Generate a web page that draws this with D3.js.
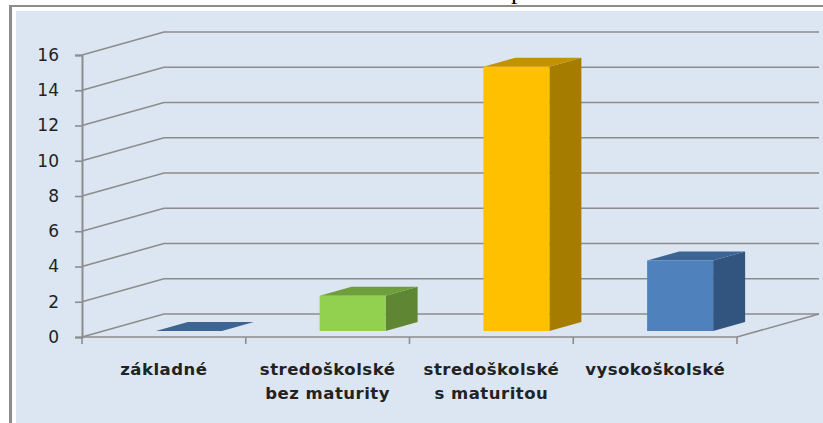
<!DOCTYPE html>
<html>
<head>
<meta charset="utf-8">
<script src="https://cdnjs.cloudflare.com/ajax/libs/d3/7.8.5/d3.min.js"></script>
<style>
html, body { margin: 0; padding: 0; background: #fff; overflow: hidden; }
svg { display: block; }
text { font-family: "DejaVu Sans", sans-serif; fill: #222; }
</style>
</head>
<body>
<div id="chart"></div>
<script>
const categories = ["základné", "stredoškolské|bez maturity", "stredoškolské|s maturitou", "vysokoškolské"]
const values = [0, 2, 15, 4]
const yTicks = [0, 2, 4, 6, 8, 10, 12, 14, 16]

// front face, top and side colours of each bar
const frontColors = ["#4f81bd", "#92d050", "#ffc000", "#4f81bd"]
const topColors = ["#3d6594", "#6f9e3c", "#c29200", "#3d6594"]
const sideColors = ["#325580", "#5f8733", "#a67c00", "#325580"]

const width = 823
const height = 423
const grid = "#8c8c8c"

// depth of the 3d floor and of the bars
const wallDx = 82, wallDy = -23
const barDx = 32, barDy = -9
const barLift = 6 // bars stand a bit behind the front edge
const barShift = 25 // same depth moves them to the right too

const svg = d3.select("#chart").append("svg")
    .attr("width", width)
    .attr("height", height)

// panel and its frame
svg.append("rect")
    .attr("x", 0).attr("y", 0)
    .attr("width", width).attr("height", height)
    .attr("fill", "#fff")
svg.append("rect")
    .attr("x", 16).attr("y", 11)
    .attr("width", width - 16).attr("height", height - 11)
    .attr("fill", "#dce6f2")

// the title is cut off by the picture, only the tail of its "p" is left
svg.append("text")
    .attr("x", 511)
    .attr("y", -1)
    .style("font-family", '"Liberation Serif", serif')
    .style("font-size", "26px")
    .style("fill", "#000")
    .text("p")

svg.append("line")
    .attr("x1", 10.5).attr("x2", 10.5).attr("y1", 5).attr("y2", height)
    .attr("stroke", "#8c8c8c").attr("stroke-width", 3)
svg.append("line")
    .attr("x1", 9).attr("x2", width).attr("y1", 6).attr("y2", 6)
    .attr("stroke", "#8c8c8c").attr("stroke-width", 2)

var x = d3.scaleBand()
    .domain(categories)
    .range([82, 737])
    .paddingInner(0)

var y = d3.scaleLinear()
    .domain([0, 16])
    .range([337, 55])

// -----------------------------------------------------------------------------
// walls: gridlines run along the side wall, then along the back wall
var g = svg.append("g")

g.selectAll(".gridline")
  .data(yTicks)
  .join("polyline")
    .attr("class", "gridline")
    .attr("fill", "none")
    .attr("stroke", grid)
    .attr("stroke-width", 1.6)
    .attr("points", function(d) {
      return [[x.range()[0], y(d)],
              [x.range()[0] + wallDx, y(d) + wallDy],
              [x.range()[1] + wallDx, y(d) + wallDy]].join(" ")
    })

// floor front and right edges
g.append("polyline")
    .attr("fill", "none")
    .attr("stroke", grid)
    .attr("stroke-width", 1.6)
    .attr("points", [[x.range()[0], y(0)], [x.range()[1], y(0)],
                     [x.range()[1] + wallDx, y(0) + wallDy]].join(" "))

// y axis
var yAxis = svg.append("g")
    .attr("transform", "translate(82,0)")
    .call(d3.axisLeft(y).tickValues(yTicks).tickSize(7).tickPadding(16).tickFormat(d3.format("d")))
yAxis.select(".domain").attr("stroke", grid).attr("stroke-width", 2)
yAxis.selectAll("line").attr("stroke", grid).attr("stroke-width", 1.6)
yAxis.selectAll("text")
    .style("font-family", '"DejaVu Sans", sans-serif')
    .style("font-size", "17px")
    .attr("fill", "#222")

// x axis ticks sit on category boundaries
var xBounds = categories.map(function(c) { return x(c) }).concat([x.range()[1]])
svg.selectAll(".xtick")
  .data(xBounds)
  .join("line")
    .attr("class", "xtick")
    .attr("x1", function(d) { return d })
    .attr("x2", function(d) { return d })
    .attr("y1", y(0))
    .attr("y2", y(0) + 7)
    .attr("stroke", grid)
    .attr("stroke-width", 1.6)

// -----------------------------------------------------------------------------
// bars
var barWidth = 66
var bars = svg.selectAll(".bar")
  .data(categories)
  .join("g")
    .attr("class", "bar")

function barX(c) { return x(c) + x.bandwidth() / 2 - barWidth / 2 + barShift }
function barTop(i) { return y(values[i]) - barLift }
var barBase = y(0) - barLift

// right side
bars.append("polygon")
    .attr("fill", function(c, i) { return sideColors[i] })
    .attr("points", function(c, i) {
      var r = barX(c) + barWidth
      return [[r, barTop(i)], [r + barDx, barTop(i) + barDy],
              [r + barDx, barBase + barDy], [r, barBase]].join(" ")
    })

// top
bars.append("polygon")
    .attr("fill", function(c, i) { return topColors[i] })
    .attr("points", function(c, i) {
      var l = barX(c), r = l + barWidth
      return [[l, barTop(i)], [r, barTop(i)],
              [r + barDx, barTop(i) + barDy], [l + barDx, barTop(i) + barDy]].join(" ")
    })

// front
bars.append("rect")
    .attr("fill", function(c, i) { return frontColors[i] })
    .attr("x", barX)
    .attr("y", function(c, i) { return barTop(i) })
    .attr("width", barWidth)
    .attr("height", function(c, i) { return barBase - barTop(i) })

// -----------------------------------------------------------------------------
// category labels, two lines split on |
var labels = svg.selectAll(".cat")
  .data(categories)
  .join("text")
    .attr("class", "cat")
    .attr("text-anchor", "middle")
    .attr("font-size", "16.5px")
    .attr("font-weight", 700)
    .attr("letter-spacing", "0.5px")

labels.selectAll("tspan")
  .data(function(c) {
    return c.split("|").map(function(t) { return { c: c, t: t } })
  })
  .join("tspan")
    .attr("x", function(d) { return x(d.c) + x.bandwidth() / 2 })
    .attr("y", function(d, i) { return 375 + i * 23.5 })
    .text(function(d) { return d.t })
</script>
</body>
</html>
